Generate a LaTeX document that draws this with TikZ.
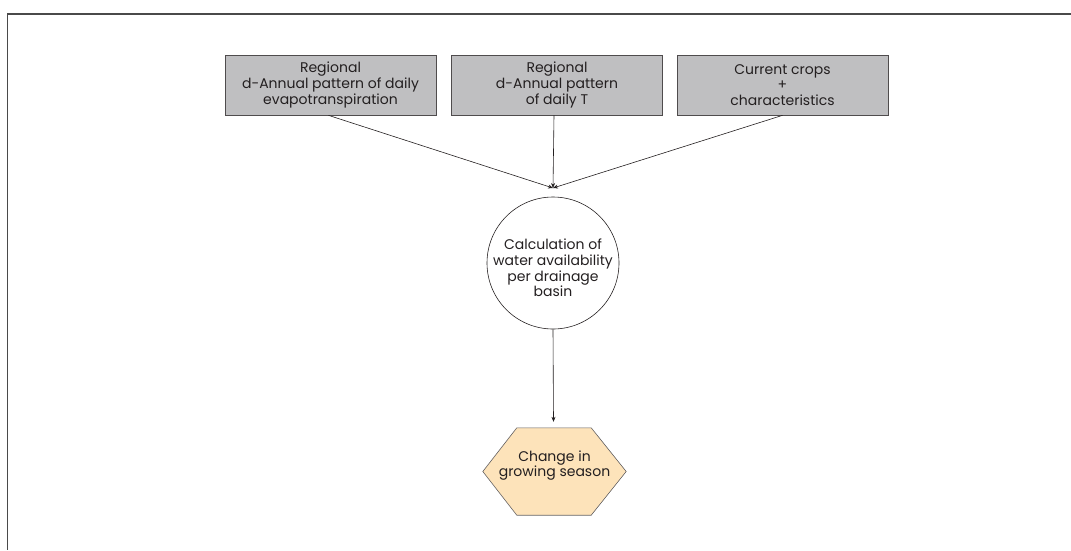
\documentclass[tikz,border=0pt]{standalone}
\usepackage{fontspec}
\setmainfont{Poppins}
\usetikzlibrary{arrows.meta,calc}
\definecolor{boxgray}{HTML}{BFBFC1}
\definecolor{hexfill}{HTML}{FDE3BA}
\definecolor{ink}{HTML}{231F20}
\definecolor{framegray}{HTML}{4A4A4A}
\begin{document}
\begin{tikzpicture}[x=1pt,y=-1pt,
  every node/.style={font=\fontsize{14}{15.8}\selectfont, text=ink, align=center, inner sep=0pt},
  inbox/.style={draw=ink!80, line width=0.7pt, fill=boxgray, minimum width=211pt, minimum height=60pt},
  calc/.style={circle, draw=ink, line width=0.6pt, minimum size=132pt},
  link/.style={draw=ink, line width=0.6pt, -{Stealth[length=5pt,width=4pt]}}
]
\useasboundingbox (0,0) rectangle (1071,550);
% frame lines along top and left
\draw[framegray, line width=1.3pt] (1071,14) -- (7.5,14) -- (7.5,550);

% input boxes
\node[inbox] (evap) at (330.5,85) {Regional\\d-Annual pattern of daily\\evapotranspiration};
\node[inbox] (temp) at (557,85) {Regional\\d-Annual pattern\\of daily T};
\node[inbox] (crops) at (782.5,85) {Current crops\\+\\characteristics};

% calculation node and merge point
\node[calc] (calcnode) at (553,263) {};
\node at ($(calcnode)+(0,5)$) {Calculation of\\water availability\\per drainage\\basin};
\coordinate (merge) at (553,188);

% outcome hexagon
\node[minimum width=143pt, minimum height=87pt] (season) at (554.5,471.5) {};
\draw[fill=hexfill, draw=ink!70, line width=0.6pt]
  (season.west) -- ($(season.north west)+(34,0)$) -- ($(season.north east)+(-35,0)$)
  -- (season.east) -- ($(season.south east)+(-35,0)$) -- ($(season.south west)+(34,0)$) -- cycle;
\node at ($(season)+(0,-6)$) {Change in\\growing season};

% connectors
\draw[link] ($(evap.south)+(-2,0)$) -- (merge);
\draw[link] ($(temp.south)+(-3,0)$) -- (merge);
\draw[link] (crops.south) -- (merge);
\draw[link] (calcnode.south) -- ($(season.north)+(-1,-6)$);
\end{tikzpicture}
\end{document}
